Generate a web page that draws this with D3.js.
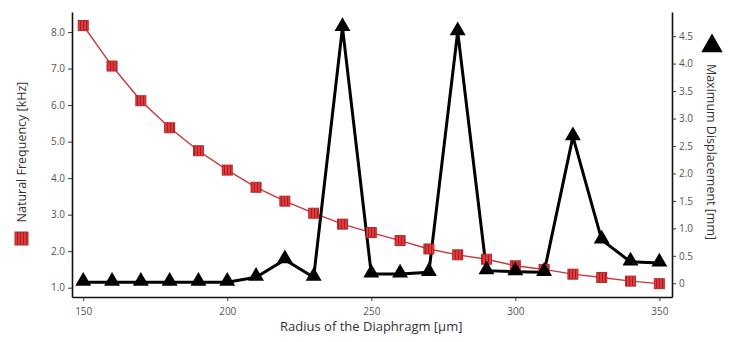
<!DOCTYPE html>
<html>
<head>
<meta charset="utf-8">
<script src="https://cdn.jsdelivr.net/npm/d3@7"></script>
<style>
  body { margin: 0; background: #fff; }
  text { font-family: "Open Sans", sans-serif; }
</style>
</head>
<body>
<div id="chart"></div>
<script>
// Data
const radius = [150, 160, 170, 180, 190, 200, 210, 220, 230, 240, 250, 260, 270, 280, 290, 300, 310, 320, 330, 340, 350];
const frequency = [8.18, 7.07, 6.12, 5.38, 4.75, 4.22, 3.75, 3.37, 3.04, 2.74, 2.51, 2.29, 2.06, 1.90, 1.78, 1.60, 1.50, 1.37, 1.28, 1.18, 1.11];
const displacement = [0.02, 0.02, 0.02, 0.02, 0.02, 0.02, 0.11, 0.43, 0.11, 4.66, 0.17, 0.17, 0.2, 4.58, 0.23, 0.21, 0.2, 2.67, 0.79, 0.39, 0.37];
const xTicks = [150, 200, 250, 300, 350];
const leftTicks = [1, 2, 3, 4, 5, 6, 7, 8];
const rightTicks = [0, 0.5, 1, 1.5, 2, 2.5, 3, 3.5, 4, 4.5];

const W = 731, H = 342;
const margin = { top: 12, right: 59, bottom: 45, left: 72 },
    width = W - margin.left - margin.right,
    height = H - margin.top - margin.bottom;

const svg = d3.select("#chart").append("svg")
    .attr("width", W)
    .attr("height", H);

// striped fill for the square markers
const defs = svg.append("defs");
const pat = defs.append("pattern")
    .attr("id", "stripes")
    .attr("patternUnits", "userSpaceOnUse")
    .attr("width", 3).attr("height", 3);
pat.append("rect").attr("width", 3).attr("height", 3).attr("fill", "#e0393c");
pat.append("rect").attr("x", 2).attr("width", 1).attr("height", 3).attr("fill", "#a81e22");

const g = svg.append("g")
    .attr("transform", `translate(${margin.left},${margin.top})`);

const x = d3.scaleLinear().domain([146.1, 354.4]).range([0, width]);
const yL = d3.scaleLinear().domain([0.745, 8.55]).range([height, 0]);
const yR = d3.scaleLinear().domain([-0.25, 4.94]).range([height, 0]);

// axes
const xAxis = g.append("g")
    .attr("transform", `translate(0,${height})`)
    .call(d3.axisBottom(x).tickValues(xTicks).tickSize(4).tickSizeOuter(0));
const lAxis = g.append("g")
    .call(d3.axisLeft(yL).tickValues(leftTicks).tickFormat(d3.format(".1f")).tickSize(4).tickSizeOuter(0));
const rAxis = g.append("g")
    .attr("transform", `translate(${width},0)`)
    .call(d3.axisRight(yR).tickValues(rightTicks).tickFormat(d => d === 0 ? "0" : d.toFixed(1)).tickSize(4).tickSizeOuter(0));

[xAxis, lAxis, rAxis].forEach(a => {
    a.select(".domain").attr("stroke", "#111").attr("stroke-width", 1.6);
    a.selectAll(".tick line").attr("stroke", "#333");
    a.selectAll(".tick text").attr("fill", "#555").style("font-size", "10px");
});
xAxis.selectAll(".tick text").attr("dy", "1.1em");

// frequency series (left axis)
const freqData = radius.map((r, i) => ({ r, v: frequency[i] }));
g.append("path")
    .datum(freqData)
    .attr("fill", "none")
    .attr("stroke", "#c8383b")
    .attr("stroke-width", 1.4)
    .attr("d", d3.line().x(d => x(d.r)).y(d => yL(d.v)));

// displacement series (right axis)
const dispData = radius.map((r, i) => ({ r, v: displacement[i] }));
g.append("path")
    .datum(dispData)
    .attr("fill", "none")
    .attr("stroke", "#000")
    .attr("stroke-width", 3)
    .attr("stroke-linejoin", "miter")
    .attr("d", d3.line().x(d => x(d.r)).y(d => yR(d.v)));

g.selectAll(".sq")
    .data(freqData)
    .join("rect")
    .attr("class", "sq")
    .attr("x", d => x(d.r) - 5)
    .attr("y", d => yL(d.v) - 5)
    .attr("width", 10).attr("height", 10)
    .attr("fill", "url(#stripes)")
    .attr("stroke", "#b52a2d")
    .attr("stroke-width", 1);

const tri = d3.symbol().type(d3.symbolTriangle).size(110);
g.selectAll(".tri")
    .data(dispData)
    .join("path")
    .attr("class", "tri")
    .attr("transform", d => `translate(${x(d.r)},${yR(d.v) - 1})`)
    .attr("d", tri)
    .attr("fill", "#000");

// x label
svg.append("text")
    .attr("x", margin.left + x(250))
    .attr("y", 331)
    .attr("text-anchor", "middle")
    .attr("fill", "#333")
    .style("font-size", "13px")
    .text("Radius of the Diaphragm [\u00b5m]");

// left label with square marker
svg.append("rect")
    .attr("x", 15).attr("y", 232)
    .attr("width", 13).attr("height", 13)
    .attr("fill", "url(#stripes)")
    .attr("stroke", "#b52a2d");
svg.append("text")
    .attr("transform", "translate(26,152) rotate(-90)")
    .attr("text-anchor", "middle")
    .attr("fill", "#333")
    .style("font-size", "12.5px")
    .text("Natural Frequency [kHz]");

// right label with triangle marker
svg.append("path")
    .attr("transform", "translate(712,46)")
    .attr("d", d3.symbol().type(d3.symbolTriangle).size(200))
    .attr("fill", "#000");
svg.append("text")
    .attr("transform", "translate(707,152) rotate(90)")
    .attr("text-anchor", "middle")
    .attr("fill", "#333")
    .style("font-size", "12.5px")
    .text("Maximum Displacement [mm]");
</script>
</body>
</html>
